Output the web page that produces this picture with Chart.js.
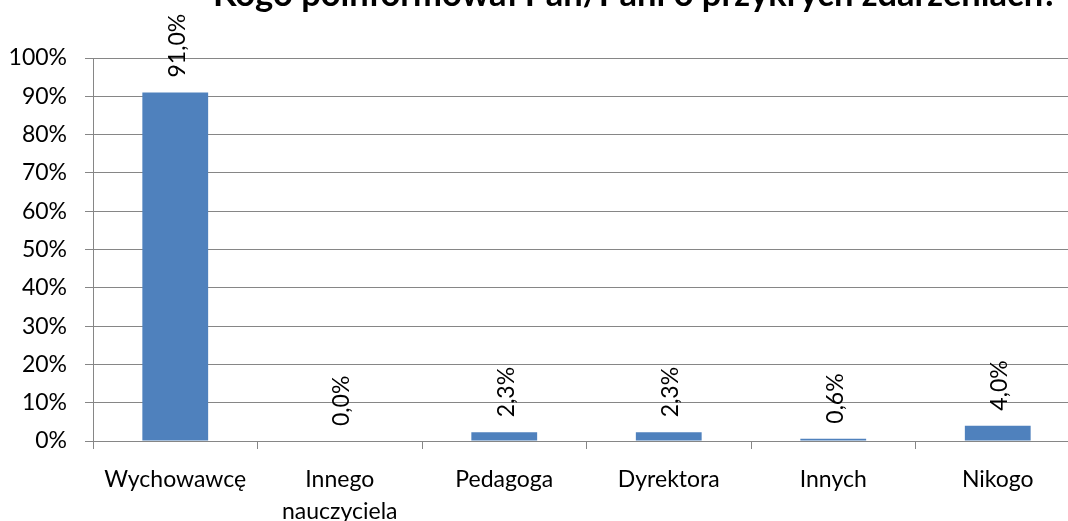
<!DOCTYPE html>
<html lang="pl">
<head>
<meta charset="UTF-8">
<title>Kogo poinformował Pan/Pani o przykrych zdarzeniach?</title>
<style>
    html, body { margin: 0; padding: 0; background: #fff; overflow: hidden; }
    .wykres { position: absolute; left: 0; top: 0; width: 1100px; height: 521px; }
    .tytul {
        position: absolute; left: 213px; top: -24px;
        font: bold 34.5px Lato; line-height: 1; white-space: nowrap; color: #000;
    }
</style>
</head>
<body>

<div class="wykres">
    <canvas id="myChart" width="1100" height="521"></canvas>
</div>
<div class="tytul">Kogo poinformował Pan/Pani o przykrych zdarzeniach?</div>

<script src="https://cdn.jsdelivr.net/npm/chart.js"></script>
<script>
    const kategorie = ['Wychowawcę', ['Innego', 'nauczyciela'], 'Pedagoga', 'Dyrektora', 'Innych', 'Nikogo'];
    const wartosci = [91.0, 0.0, 2.3, 2.3, 0.6, 4.0];
    const osY = [0, 10, 20, 30, 40, 50, 60, 70, 80, 90, 100];

    const szary = '#868686';
    Chart.defaults.font.family = 'Lato';
    Chart.defaults.font.size = 23;
    Chart.defaults.color = '#000';

    // etykiety nad slupkami, obrocone o 90 stopni
    const etykiety = {
        id: 'etykiety',
        afterDatasetsDraw(chart) {
            const ctx = chart.ctx;
            const meta = chart.getDatasetMeta(0);
            ctx.save();
            ctx.font = '23px Lato';
            ctx.fillStyle = '#000';
            ctx.textAlign = 'left';
            ctx.textBaseline = 'middle';
            meta.data.forEach((bar, i) => {
                const tekst = wartosci[i].toFixed(1).replace('.', ',') + '%';
                ctx.save();
                ctx.translate(bar.x + 2, bar.y - 15);
                ctx.rotate(-Math.PI / 2);
                ctx.fillText(tekst, 0, 0);
                ctx.restore();
            });
            ctx.restore();
        }
    };

    const myChart = new Chart(document.getElementById('myChart'), {
        type: 'bar',
        data: {
            labels: kategorie,
            datasets: [{
                data: wartosci,
                backgroundColor: '#4F81BD',
                borderWidth: 0,
                barPercentage: 0.4,
                categoryPercentage: 1
            }]
        },
        options: {
            responsive: false,
            animation: false,
            layout: { padding: { top: 58, right: 20, left: 0, bottom: 0 } },
            plugins: {
                legend: { display: false },
                title: { display: false },
                tooltip: { enabled: false }
            },
            scales: {
                x: {
                    grid: { drawOnChartArea: false, color: szary, tickLength: 8 },
                    border: { color: szary },
                    ticks: { padding: 14, maxRotation: 0, font: { size: 23, lineHeight: 1.4 } },
                    afterFit(scale) { scale.height = 80; }
                },
                y: {
                    min: 0,
                    max: 100,
                    afterBuildTicks(scale) { scale.ticks = osY.map(v => ({ value: v })); },
                    grid: { color: szary, tickLength: 8 },
                    border: { color: szary },
                    ticks: { padding: 18, callback: v => v + '%' },
                    afterFit(scale) { scale.width = 93; }
                }
            }
        },
        plugins: [etykiety]
    });
</script>

</body>
</html>
